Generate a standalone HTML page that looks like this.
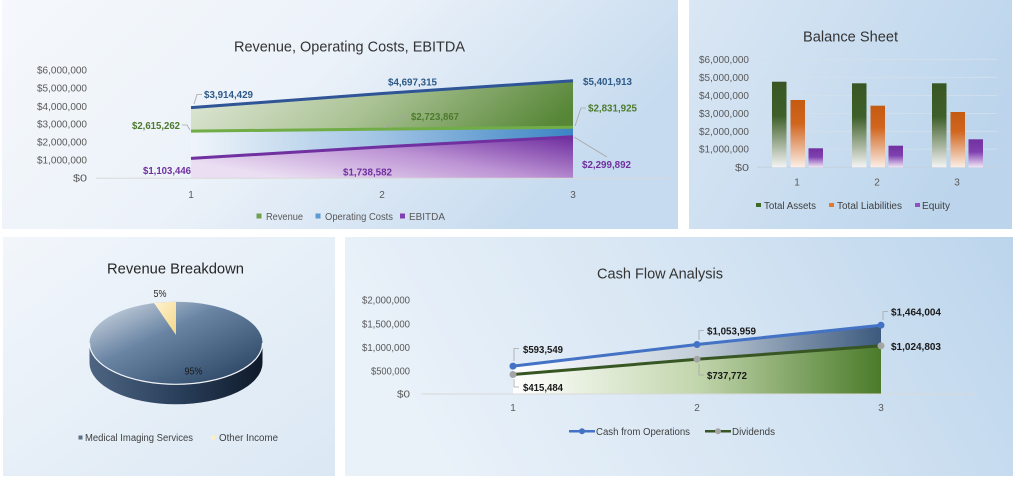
<!DOCTYPE html>
<html><head><meta charset="utf-8"><style>
html,body{margin:0;padding:0;background:#fff;}
svg{display:block;}
text{font-family:"Liberation Sans",sans-serif;}
</style></head><body>
<svg width="1024" height="481" viewBox="0 0 1024 481" xmlns="http://www.w3.org/2000/svg">
<defs>
<linearGradient id="bg1" x1="0" y1="0" x2="1" y2="0.35"><stop offset="0" stop-color="#f5f8fc"/><stop offset="0.5" stop-color="#ecf2f9"/><stop offset="1" stop-color="#c6dbef"/></linearGradient>
<linearGradient id="bg2" x1="0" y1="0" x2="1" y2="0.4"><stop offset="0" stop-color="#dae7f4"/><stop offset="1" stop-color="#bcd5ec"/></linearGradient>
<linearGradient id="bg3" x1="0" y1="0" x2="1" y2="1"><stop offset="0" stop-color="#f2f6fb"/><stop offset="1" stop-color="#dbe8f4"/></linearGradient>
<linearGradient id="bg4" x1="0" y1="0.2" x2="1" y2="0"><stop offset="0" stop-color="#e9f1f9"/><stop offset="0.5" stop-color="#d6e5f3"/><stop offset="1" stop-color="#bcd5ec"/></linearGradient>
<linearGradient id="gRev" x1="0" y1="0" x2="1" y2="0.3"><stop offset="0" stop-color="#e3eadb"/><stop offset="0.5" stop-color="#aac294"/><stop offset="1" stop-color="#568636"/></linearGradient>
<linearGradient id="gOc" x1="0" y1="0" x2="1" y2="0"><stop offset="0" stop-color="#f0f5fa"/><stop offset="0.5" stop-color="#a0c3e4"/><stop offset="1" stop-color="#3c84c4"/></linearGradient>
<linearGradient id="gEb" x1="0" y1="0.6" x2="1" y2="0"><stop offset="0" stop-color="#ebdef2"/><stop offset="0.5" stop-color="#bc93d4"/><stop offset="1" stop-color="#6e2c9e"/></linearGradient>
<linearGradient id="bG" x1="0" y1="0" x2="0" y2="1"><stop offset="0" stop-color="#375623"/><stop offset="0.4" stop-color="#3f5f2a"/><stop offset="1" stop-color="#f4f4f4"/></linearGradient>
<linearGradient id="bO" x1="0" y1="0" x2="0" y2="1"><stop offset="0" stop-color="#c55a11"/><stop offset="0.35" stop-color="#d0651e"/><stop offset="1" stop-color="#fcefe7"/></linearGradient>
<linearGradient id="bP" x1="0" y1="0" x2="0" y2="1"><stop offset="0" stop-color="#7030a0"/><stop offset="0.45" stop-color="#8040b0"/><stop offset="1" stop-color="#f1e6f7"/></linearGradient>
<linearGradient id="pieTop" x1="0" y1="0" x2="1" y2="1"><stop offset="0" stop-color="#dbe2ea"/><stop offset="0.4" stop-color="#6a85a4"/><stop offset="1" stop-color="#213a5a"/></linearGradient>
<linearGradient id="pieSide" x1="0" y1="0" x2="1" y2="0"><stop offset="0" stop-color="#4d6582"/><stop offset="0.5" stop-color="#2a405c"/><stop offset="1" stop-color="#0f1a29"/></linearGradient>
<linearGradient id="pieY" x1="0" y1="0" x2="1" y2="1"><stop offset="0" stop-color="#fff3d2"/><stop offset="1" stop-color="#f3d68a"/></linearGradient>
<linearGradient id="gCash" x1="0" y1="0" x2="1" y2="0"><stop offset="0" stop-color="#ffffff"/><stop offset="0.5" stop-color="#c3ced9"/><stop offset="1" stop-color="#3c5a7e"/></linearGradient>
<linearGradient id="gDiv" x1="0" y1="0" x2="1" y2="0"><stop offset="0" stop-color="#ffffff"/><stop offset="0.5" stop-color="#c2d6ad"/><stop offset="1" stop-color="#4b7b2a"/></linearGradient>
</defs>

<!-- panels -->
<rect x="2" y="0" width="676" height="229" fill="url(#bg1)"/>
<rect x="689" y="0" width="323" height="229" fill="url(#bg2)"/>
<rect x="3" y="237" width="332" height="239" fill="url(#bg3)"/>
<rect x="345" y="237" width="668" height="239" fill="url(#bg4)"/>

<!-- ========== Chart 1 ========== -->
<text x="349.5" y="51.5" font-size="15" fill="#333333" text-anchor="middle" textLength="231" lengthAdjust="spacingAndGlyphs">Revenue, Operating Costs, EBITDA</text>
<g font-size="10" fill="#595959" text-anchor="end">
<text x="87" y="73.5" textLength="50" lengthAdjust="spacingAndGlyphs">$6,000,000</text>
<text x="87" y="91.6" textLength="50" lengthAdjust="spacingAndGlyphs">$5,000,000</text>
<text x="87" y="109.8" textLength="50" lengthAdjust="spacingAndGlyphs">$4,000,000</text>
<text x="87" y="127.6" textLength="50" lengthAdjust="spacingAndGlyphs">$3,000,000</text>
<text x="87" y="145.6" textLength="50" lengthAdjust="spacingAndGlyphs">$2,000,000</text>
<text x="87" y="163.5" textLength="50" lengthAdjust="spacingAndGlyphs">$1,000,000</text>
<text x="87" y="181.6" textLength="14" lengthAdjust="spacingAndGlyphs">$0</text>
</g>
<polygon points="191,107.6 382,93.5 573,80.8 573,178.3 191,178.3" fill="url(#gRev)"/>
<polygon points="191,131.1 382,129.1 573,127.2 573,178.3 191,178.3" fill="url(#gOc)"/>
<polygon points="191,158.4 382,146.9 573,136.8 573,178.3 191,178.3" fill="url(#gEb)"/>
<line x1="96" y1="178.3" x2="669" y2="178.3" stroke="#d9d9d9" stroke-width="1"/>
<polyline points="191,107.6 382,93.5 573,80.8" fill="none" stroke="#2f5597" stroke-width="3"/>
<polyline points="191,131.1 382,129.1 573,127.2" fill="none" stroke="#70ad47" stroke-width="3"/>
<polyline points="191,158.4 382,146.9 573,136.8" fill="none" stroke="#7030a0" stroke-width="3"/>
<g stroke="#a6a6a6" stroke-width="0.8" fill="none">
<polyline points="194,104 197,94.5 202,94.5"/>
<polyline points="182,125 187,125 190,130"/>
<polyline points="384,128 404,116 409,116"/>
<polyline points="575,126 581,108 586,108"/>
<polyline points="574,137 607,157"/>
</g>
<g font-size="10.5" font-weight="bold">
<text x="204" y="98" fill="#2e5a88" textLength="49" lengthAdjust="spacingAndGlyphs">$3,914,429</text>
<text x="388" y="85.5" fill="#2e5a88" textLength="49" lengthAdjust="spacingAndGlyphs">$4,697,315</text>
<text x="583" y="85" fill="#2e5a88" textLength="49" lengthAdjust="spacingAndGlyphs">$5,401,913</text>
<text x="132" y="129" fill="#4e7a2e" textLength="48" lengthAdjust="spacingAndGlyphs">$2,615,262</text>
<text x="411" y="120" fill="#4e7a2e" textLength="48" lengthAdjust="spacingAndGlyphs">$2,723,867</text>
<text x="588" y="111.5" fill="#4e7a2e" textLength="49" lengthAdjust="spacingAndGlyphs">$2,831,925</text>
<text x="143" y="174" fill="#7030a0" textLength="48" lengthAdjust="spacingAndGlyphs">$1,103,446</text>
<text x="343" y="175.5" fill="#7030a0" textLength="49" lengthAdjust="spacingAndGlyphs">$1,738,582</text>
<text x="582" y="168" fill="#7030a0" textLength="49" lengthAdjust="spacingAndGlyphs">$2,299,892</text>
</g>
<g font-size="10" fill="#595959" text-anchor="middle">
<text x="191" y="198">1</text><text x="382" y="198">2</text><text x="573" y="198">3</text>
</g>
<rect x="256.5" y="213.5" width="5" height="5" fill="#70a050"/>
<rect x="315.5" y="213.5" width="5" height="5" fill="#5b9bd5"/>
<rect x="400" y="213.5" width="5" height="5" fill="#8040b0"/>
<g font-size="10" fill="#595959">
<text x="266" y="219.8" textLength="37" lengthAdjust="spacingAndGlyphs">Revenue</text>
<text x="325" y="219.8" textLength="68" lengthAdjust="spacingAndGlyphs">Operating Costs</text>
<text x="409" y="219.8" textLength="36" lengthAdjust="spacingAndGlyphs">EBITDA</text>
</g>

<!-- ========== Balance Sheet ========== -->
<text x="850.5" y="41.5" font-size="15" fill="#333333" text-anchor="middle" textLength="95" lengthAdjust="spacingAndGlyphs">Balance Sheet</text>
<g stroke="#d3e0ec" stroke-width="0.8">
<line x1="757" y1="59.3" x2="997" y2="59.3"/><line x1="757" y1="77.3" x2="997" y2="77.3"/>
<line x1="757" y1="95.5" x2="997" y2="95.5"/><line x1="757" y1="113.5" x2="997" y2="113.5"/>
<line x1="757" y1="131.3" x2="997" y2="131.3"/><line x1="757" y1="149.2" x2="997" y2="149.2"/>
</g>
<line x1="757" y1="167.3" x2="997" y2="167.3" stroke="#c5d2de" stroke-width="1"/>
<g font-size="10" fill="#595959" text-anchor="end">
<text x="749" y="62.8" textLength="50" lengthAdjust="spacingAndGlyphs">$6,000,000</text>
<text x="749" y="80.8" textLength="50" lengthAdjust="spacingAndGlyphs">$5,000,000</text>
<text x="749" y="99" textLength="50" lengthAdjust="spacingAndGlyphs">$4,000,000</text>
<text x="749" y="117" textLength="50" lengthAdjust="spacingAndGlyphs">$3,000,000</text>
<text x="749" y="134.8" textLength="50" lengthAdjust="spacingAndGlyphs">$2,000,000</text>
<text x="749" y="152.6" textLength="50" lengthAdjust="spacingAndGlyphs">$1,000,000</text>
<text x="749" y="170.8" textLength="14" lengthAdjust="spacingAndGlyphs">$0</text>
</g>
<rect x="772" y="81.7" width="14.5" height="85.6" fill="url(#bG)"/>
<rect x="790.5" y="100" width="14.5" height="67.3" fill="url(#bO)"/>
<rect x="808.5" y="148.3" width="14.5" height="19" fill="url(#bP)"/>
<rect x="852" y="83.3" width="14.5" height="84" fill="url(#bG)"/>
<rect x="870.5" y="105.7" width="14.5" height="61.6" fill="url(#bO)"/>
<rect x="888.5" y="145.7" width="14.5" height="21.6" fill="url(#bP)"/>
<rect x="932" y="83.3" width="14.5" height="84" fill="url(#bG)"/>
<rect x="950.5" y="112" width="14.5" height="55.3" fill="url(#bO)"/>
<rect x="968.5" y="139.3" width="14.5" height="28" fill="url(#bP)"/>
<g font-size="10" fill="#595959" text-anchor="middle">
<text x="797" y="185.5">1</text><text x="877" y="185.5">2</text><text x="957" y="185.5">3</text>
</g>
<rect x="756" y="203" width="5" height="4" fill="#3f6a2a"/>
<rect x="829" y="203" width="5" height="4" fill="#e07a30"/>
<rect x="915" y="203" width="5" height="4" fill="#9050c0"/>
<g font-size="10" fill="#404040">
<text x="764" y="208.8" textLength="52" lengthAdjust="spacingAndGlyphs">Total Assets</text>
<text x="837" y="208.8" textLength="65" lengthAdjust="spacingAndGlyphs">Total Liabilities</text>
<text x="922" y="208.8" textLength="28" lengthAdjust="spacingAndGlyphs">Equity</text>
</g>

<!-- ========== Revenue Breakdown (pie) ========== -->
<text x="175.5" y="273.5" font-size="15" fill="#262626" text-anchor="middle" textLength="137" lengthAdjust="spacingAndGlyphs">Revenue Breakdown</text>
<path d="M89.5 343 L89.5 363 A86.5 41.3 0 0 0 262.5 363 L262.5 343 Z" fill="url(#pieSide)"/>
<ellipse cx="176" cy="343" rx="86.5" ry="41.3" fill="url(#pieTop)"/>
<path d="M89.5 343 A86.5 41.3 0 0 0 262.5 343" fill="none" stroke="#f2f5f8" stroke-width="1.2"/>
<path d="M176 335 L154 303.06 A86.5 41.3 0 0 1 176 301.7 Z" fill="url(#pieY)"/>
<text x="160" y="297" font-size="10.5" fill="#262626" text-anchor="middle" textLength="13" lengthAdjust="spacingAndGlyphs">5%</text>
<text x="193.5" y="374.5" font-size="10.5" fill="#1a1a1a" text-anchor="middle" textLength="18" lengthAdjust="spacingAndGlyphs">95%</text>
<rect x="78.5" y="435.5" width="4" height="4" fill="#5a6f88"/>
<rect x="211" y="435.5" width="4" height="4" fill="#fff0c0"/>
<g font-size="10" fill="#404040">
<text x="85" y="441" textLength="108" lengthAdjust="spacingAndGlyphs">Medical Imaging Services</text>
<text x="219" y="441" textLength="59" lengthAdjust="spacingAndGlyphs">Other Income</text>
</g>

<!-- ========== Cash Flow Analysis ========== -->
<text x="660" y="278.5" font-size="15" fill="#333333" text-anchor="middle" textLength="126" lengthAdjust="spacingAndGlyphs">Cash Flow Analysis</text>
<g font-size="10" fill="#595959" text-anchor="end">
<text x="410" y="303.5" textLength="48" lengthAdjust="spacingAndGlyphs">$2,000,000</text>
<text x="410" y="327.3" textLength="48" lengthAdjust="spacingAndGlyphs">$1,500,000</text>
<text x="410" y="350.8" textLength="48" lengthAdjust="spacingAndGlyphs">$1,000,000</text>
<text x="410" y="374.3" textLength="39" lengthAdjust="spacingAndGlyphs">$500,000</text>
<text x="410" y="397.6" textLength="13" lengthAdjust="spacingAndGlyphs">$0</text>
</g>
<polygon points="513,366.1 697,344.5 881,325.2 881,394 513,394" fill="url(#gCash)"/>
<polygon points="513,374.5 697,359.3 881,345.8 881,394 513,394" fill="url(#gDiv)"/>
<line x1="421" y1="394" x2="975" y2="394" stroke="#d9d9d9" stroke-width="1"/>
<polyline points="513,366.1 697,344.5 881,325.2" fill="none" stroke="#4472c4" stroke-width="3"/>
<polyline points="513,374.5 697,359.3 881,345.8" fill="none" stroke="#375623" stroke-width="3"/>
<g fill="#4472c4"><circle cx="513" cy="366.1" r="3.5"/><circle cx="697" cy="344.5" r="3.5"/><circle cx="881" cy="325.2" r="3.5"/></g>
<g fill="#a5a5a5"><circle cx="513" cy="374.5" r="3.5"/><circle cx="697" cy="359.3" r="3.5"/><circle cx="881" cy="345.8" r="3.5"/></g>
<g stroke="#a6a6a6" stroke-width="0.8" fill="none">
<polyline points="514,361 514,348.5 519,348.5"/>
<polyline points="514,379 514,387 519,387"/>
<polyline points="699,340 699,330.5 704,330.5"/>
<polyline points="699,364 699,375 704,375"/>
<polyline points="883,320 883,311.5 888,311.5"/>
</g>
<g font-size="10.5" font-weight="bold" fill="#1a1a1a">
<text x="523" y="352.8" textLength="40" lengthAdjust="spacingAndGlyphs">$593,549</text>
<text x="523" y="390.8" textLength="40" lengthAdjust="spacingAndGlyphs">$415,484</text>
<text x="707" y="334.5" textLength="49" lengthAdjust="spacingAndGlyphs">$1,053,959</text>
<text x="707" y="378.8" textLength="40" lengthAdjust="spacingAndGlyphs">$737,772</text>
<text x="891" y="315.5" textLength="50" lengthAdjust="spacingAndGlyphs">$1,464,004</text>
<text x="891" y="349.8" textLength="50" lengthAdjust="spacingAndGlyphs">$1,024,803</text>
</g>
<g font-size="10" fill="#595959" text-anchor="middle">
<text x="513" y="411">1</text><text x="697" y="411">2</text><text x="881" y="411">3</text>
</g>
<line x1="569" y1="431.3" x2="595" y2="431.3" stroke="#4472c4" stroke-width="2.5"/>
<circle cx="582" cy="431.3" r="3" fill="#4472c4"/>
<line x1="705" y1="431.3" x2="731" y2="431.3" stroke="#375623" stroke-width="2.5"/>
<circle cx="718" cy="431.3" r="3" fill="#a5a5a5"/>
<g font-size="10" fill="#404040">
<text x="596" y="435" textLength="94" lengthAdjust="spacingAndGlyphs">Cash from Operations</text>
<text x="732" y="435" textLength="43" lengthAdjust="spacingAndGlyphs">Dividends</text>
</g>
</svg>
</body></html>
